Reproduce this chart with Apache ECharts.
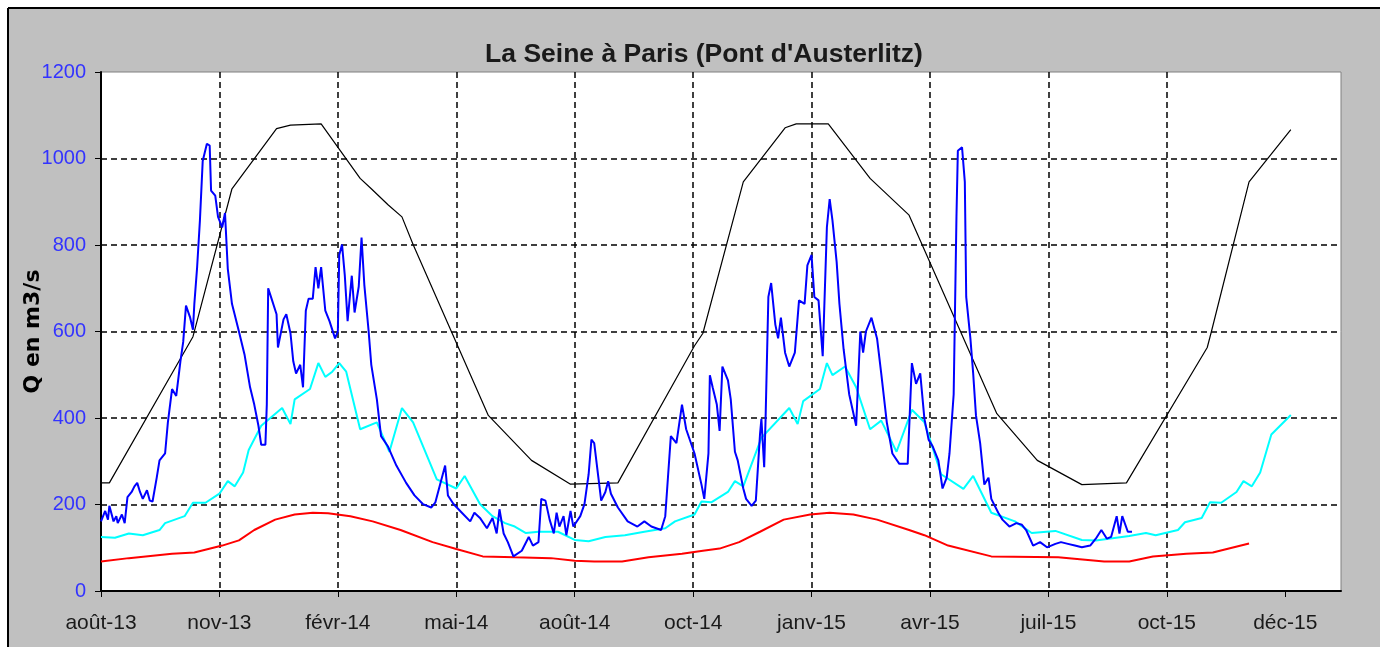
<!DOCTYPE html>
<html>
<head>
<meta charset="utf-8">
<script src="https://cdn.jsdelivr.net/npm/echarts@6/dist/echarts.min.js"></script>
<style>
  html, body { margin: 0; padding: 0; background: #ffffff; }
  #chart { width: 1380px; height: 647px; }
</style>
</head>
<body>
<div id="chart"></div>
<script>
// x values are days from the start of the axis (one major tick every 85 days)
const tickLabels = ['août-13','nov-13','févr-14','mai-14','août-14','oct-14','janv-15','avr-15','juil-15','oct-15','déc-15'];
const tickStepDays = 85;
const axisEndDays = 890;

const blackDays = [0,6,66,94,126,136,158,186,194,206,216,224,278,309,337,371,426,432,461,491,499,522,552,580,643,672,704,736,794,797,824,854];
const blackQ    = [250,250,588,930,1069,1077,1080,954,930,893,865,801,406,302,247,250,567,596,946,1071,1080,1080,954,869,410,302,246,250,563,600,946,1067];

const cyanDays = [0,10,20,30,42,46,60,66,75,85,91,96,102,106,115,130,136,139,150,156,161,166,171,176,186,198,207,216,224,241,255,261,272,281,290,297,305,314,328,340,350,362,376,390,405,412,426,431,438,450,455,461,474,494,500,504,516,521,525,534,542,552,560,571,582,591,603,619,626,639,656,668,685,704,714,738,750,757,773,778,790,796,804,815,820,826,832,840,854];
const cyanQ    = [125,123,133,129,141,157,173,204,204,225,254,242,274,326,382,423,386,443,467,527,495,507,527,507,374,390,322,423,390,258,237,266,201,173,157,149,134,137,137,118,115,125,129,137,145,161,177,207,205,229,254,242,354,423,386,439,467,527,499,519,471,374,394,322,419,390,270,236,266,181,161,134,139,118,117,127,134,129,141,159,169,205,204,229,254,242,274,362,407];

const redDays = [0,20,51,67,87,99,110,125,139,152,163,179,195,215,238,255,274,297,323,340,354,374,393,417,432,444,458,473,490,509,523,540,557,580,591,608,639,687,720,738,755,779,798,824];
const redQ    = [68,76,86,89,105,117,141,165,177,181,180,173,161,141,113,97,80,78,76,70,68,68,78,86,93,98,113,137,165,177,181,177,165,141,129,105,80,78,68,68,80,86,89,110];

const blueDays = [0,3,5,6,9,11,12,15,17,19,22,24,26,28,30,33,35,37,40,42,46,48,51,54,57,59,61,64,66,67,69,71,73,76,78,79,82,84,87,89,91,94,99,103,107,110,113,115,118,119,120,122,126,127,131,133,136,138,140,143,145,147,149,152,154,156,158,161,164,168,170,171,173,175,177,180,182,185,187,189,192,194,198,201,206,212,219,225,231,237,240,244,247,249,253,259,265,268,272,277,281,284,286,289,292,296,302,307,310,314,316,319,322,325,327,329,332,334,337,339,344,347,350,352,354,357,359,362,364,366,371,378,385,390,395,402,405,407,409,413,417,420,426,431,433,436,437,439,442,444,446,450,452,455,457,461,463,467,470,473,474,476,477,479,481,484,486,488,491,494,498,501,505,507,510,512,515,518,521,523,525,528,530,533,537,542,545,547,549,553,557,560,564,568,573,579,582,585,588,591,594,597,601,604,607,609,612,614,615,618,620,621,624,626,628,631,634,637,639,644,647,652,657,661,664,669,674,679,685,689,694,699,704,710,714,718,722,725,729,731,733,737,740];
const blueQ    = [161,185,165,197,161,173,157,177,157,217,229,242,250,229,213,233,209,207,262,302,318,390,467,451,531,576,660,632,604,664,749,857,994,1034,1030,926,914,865,841,874,745,664,600,547,471,431,382,338,338,431,700,680,640,563,628,640,596,531,503,523,471,648,676,676,749,700,749,648,624,584,600,777,801,729,624,729,644,704,817,708,604,523,443,358,334,290,250,221,201,193,205,254,290,221,201,181,161,181,169,145,169,133,189,133,113,80,93,125,105,113,213,209,165,133,181,149,173,129,185,149,173,201,270,350,342,262,209,229,254,225,193,161,149,161,149,141,173,266,358,342,431,374,318,246,213,318,499,471,431,370,519,487,443,322,302,237,213,197,209,362,398,286,398,680,712,616,584,632,551,519,551,672,664,753,777,680,672,543,841,906,857,761,664,559,455,382,600,551,600,632,584,503,390,318,294,294,527,479,503,398,350,334,302,237,262,318,455,865,1018,1026,946,680,584,503,406,342,246,262,213,181,165,149,157,153,141,105,113,101,109,113,109,105,101,105,121,141,121,125,173,133,173,137,137];

const yTicks = [0, 200, 400, 600, 800, 1000, 1200];

function pairs(xs, ys) { return xs.map((x, i) => [x, ys[i]]); }
const tickValues = tickLabels.map((_, i) => i * tickStepDays);

const FONT = "'Liberation Sans', Arial, sans-serif";

const chart = echarts.init(document.getElementById('chart'), null, { renderer: 'canvas' });
chart.setOption({
  animation: false,
  backgroundColor: '#ffffff',
  graphic: [
    { type: 'rect', z: -10, shape: { x: 8, y: 8, width: 1372, height: 639 }, style: { fill: '#c0c0c0' } },
    { type: 'line', z: -9, shape: { x1: 8, y1: 8, x2: 1380, y2: 8 }, style: { stroke: '#000', lineWidth: 2 } },
    { type: 'line', z: -9, shape: { x1: 8, y1: 8, x2: 8, y2: 647 }, style: { stroke: '#000', lineWidth: 2 } }
  ],
  title: {
    text: "La Seine à Paris (Pont d'Austerlitz)",
    left: 699, textAlign: 'center', top: 36,
    textStyle: { fontFamily: FONT, fontSize: 26.5, fontWeight: 'bold', color: '#1a1a1a' }
  },
  grid: {
    left: 101, right: 39, top: 72, bottom: 56,
    show: true, backgroundColor: '#ffffff', borderColor: '#808080', borderWidth: 1
  },
  xAxis: {
    type: 'value', min: 0, max: axisEndDays,
    axisLine: { show: true, onZero: false, lineStyle: { color: '#000', width: 2 } },
    axisTick: { show: true, length: 6, customValues: tickValues, lineStyle: { color: '#000', width: 1 } },
    axisLabel: {
      customValues: tickValues,
      formatter: v => tickLabels[Math.round(v / tickStepDays)] || '',
      fontFamily: FONT, fontSize: 21, color: '#1a1a1a', margin: 22
    },
    splitLine: { show: true, showMinLine: false, showMaxLine: false, lineStyle: { color: '#000', type: [6, 4], width: 1.5 } }
  },
  yAxis: {
    type: 'value', min: yTicks[0], max: yTicks[yTicks.length - 1], interval: yTicks[1] - yTicks[0],
    name: 'Q en m3/s', nameLocation: 'middle', nameRotate: 90, nameGap: 57, nameMoveOverlap: false,
    nameTextStyle: { fontFamily: "'DejaVu Sans', sans-serif", fontSize: 22, fontWeight: 'bold', color: '#000' },
    axisLine: { show: true, lineStyle: { color: '#000', width: 2 } },
    axisTick: { show: true, length: 6, lineStyle: { color: '#000', width: 1 } },
    axisLabel: { fontFamily: FONT, fontSize: 20, color: '#3333ff', margin: 15, formatter: v => String(v) },
    splitLine: { show: true, showMinLine: false, showMaxLine: false, lineStyle: { color: '#000', type: [6, 4], width: 1.5 } }
  },
  series: [
    { name: 'max', type: 'line', data: pairs(blackDays, blackQ), showSymbol: false, z: 2,
      lineStyle: { color: '#000000', width: 1.2 }, itemStyle: { color: '#000' } },
    { name: 'min', type: 'line', data: pairs(redDays, redQ), showSymbol: false, z: 3,
      lineStyle: { color: '#ff0000', width: 2 }, itemStyle: { color: '#f00' } },
    { name: 'moyenne', type: 'line', data: pairs(cyanDays, cyanQ), showSymbol: false, z: 4,
      lineStyle: { color: '#00ffff', width: 2 }, itemStyle: { color: '#0ff' } },
    { name: 'Q journalier', type: 'line', data: pairs(blueDays, blueQ), showSymbol: false, z: 5,
      lineStyle: { color: '#0000ff', width: 2 }, itemStyle: { color: '#00f' } }
  ]
});
</script>
</body>
</html>
